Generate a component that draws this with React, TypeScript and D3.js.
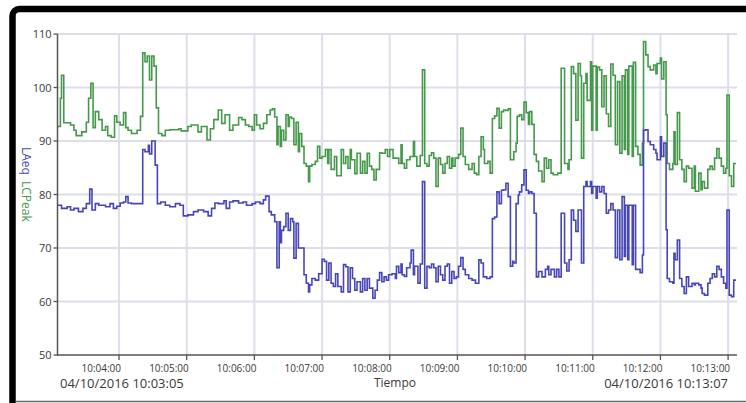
import React from "react";
import * as d3 from "d3";

// recording window
const startTime = new Date(2016, 9, 4, 10, 3, 5);
const endTime = new Date(2016, 9, 4, 10, 13, 7);

// LCPeak (green): step start in seconds from start, value in dB
const lcpeakSec = [
  0, 3, 4, 6, 12, 15, 17, 22, 26, 28, 30, 32, 34, 37, 40, 43, 45, 48, 51, 53, 56, 59, 61, 63, 66, 71, 74, 76, 78, 80,
  82, 84, 86, 88, 90, 93, 96, 100, 108, 110, 116, 119, 125, 128, 133, 136, 139, 143, 146, 149,
  153, 156, 161, 164, 167, 170, 173, 175, 177, 180, 183, 186, 189, 191, 193, 195, 196, 198, 199, 201, 203, 205, 206,
  208, 210, 212, 214, 215, 217, 219, 221, 223, 224, 226, 229, 231, 233, 235, 238, 240, 241, 243, 246, 248, 252, 254,
  256, 258, 260, 261, 264, 266, 269, 271, 273, 275, 277, 279, 281, 283, 286, 288, 291, 293, 295, 298,
  300, 303, 305, 306, 308, 310, 313, 316, 317, 319, 322, 324, 326, 328, 330, 332, 334, 336, 338, 340, 342, 344, 346,
  348, 350, 351, 353, 356, 358, 360, 362, 365, 368, 370, 372, 374, 376, 378, 379, 382, 384, 386, 388, 390, 392, 394,
  396, 398, 400, 402, 405, 407, 408, 410, 412, 414, 416, 418, 419, 421, 423, 425, 427, 430, 432, 434, 436, 438, 440,
  444, 447,
  450, 453, 454, 456, 458, 460, 462, 464, 465, 467, 469, 470, 473, 474, 475, 478, 479, 481, 483, 485, 487, 489, 491,
  493, 495, 497, 499, 501, 503, 504, 506, 507, 510, 511, 513, 515, 517, 519, 520, 522, 524, 526, 529, 531, 532, 535,
  536, 538, 540, 541, 543, 546, 547, 548, 550, 552, 554, 556, 558, 560, 563, 565, 566, 569, 571, 572, 574, 577, 579,
  581, 583, 585, 587, 589, 591, 593, 594, 596, 598, 600,
];
const lcpeakVal = [
  92.7, 98, 102.3, 93.4, 93, 92, 91, 91.7, 93.5, 98, 100.8, 92.5, 95.5, 94, 92, 92.7, 91, 90.7, 94.7, 93.5, 93, 95.3,
  92.5, 92, 91.4, 92, 94.6, 106.5, 104.8, 105.9, 101.4, 105.9, 104, 96.2, 91.4, 91, 92, 92.1, 92.3, 91.9, 92.7, 93,
  91.7, 92.7, 90.2, 92.3, 94, 95.8, 93.3, 94.9,
  92, 93, 94.4, 94, 93, 92.7, 92, 94.9, 93, 92.3, 93.3, 94.9, 95.8, 96, 94.5, 89.3, 92.7, 89, 92, 90.2, 94.9, 92.7,
  94.5, 94.2, 89.3, 93.5, 88, 91.4, 89, 85.8, 85.3, 82.4, 85.3, 85.6, 86.2, 89, 86.8, 87.1, 88.4, 85.8, 88.4, 84.7,
  87.1, 83.5, 88.4, 85.8, 87.1, 84.9, 88.4, 86.5, 83.9, 87.7, 84, 86.2, 84, 87.7, 85.3, 84.7, 82.7, 84.7, 87.8, 87.7,
  88.4, 87.1, 88.4, 86.8,
  86.8, 85.8, 89.3, 85.8, 84.9, 86.5, 87.1, 89.9, 87.1, 85.3, 87.3, 103.3, 85.8, 85.3, 87.3, 87.8, 86.8, 81.5, 86.8,
  85.6, 84, 85.8, 87.1, 84.9, 86.8, 85.3, 86.8, 87.5, 92.4, 87.1, 85.6, 84.7, 85.8, 84, 83.7, 87.1, 90.8, 88.4, 85.8,
  86.2, 84, 94.2, 94.7, 96.1, 92.4, 95.5, 95.8, 95.7, 96, 86.5, 88, 89.6, 94.6, 94.9, 94, 97.3, 95.3, 93.1, 95.5, 93.1,
  87.5, 86.2, 84.4, 82.4, 86.8, 84.9, 86.5, 84, 83.7, 84, 103.6,
  85.8, 84.7, 86.5, 103.9, 102.6, 93.9, 104.5, 102.2, 86.8, 100.8, 102.6, 97.6, 104.8, 92, 104, 92, 103.8, 103.3,
  96.4, 102.2, 95.1, 92.7, 104.4, 102.3, 89.3, 101.1, 87.7, 102.2, 88.4, 103.3, 87.5, 104, 87.1, 104.7, 89, 87.5,
  85.5, 89.6, 108.6, 106.1, 103.9, 103.3, 104.2, 102.6, 104.5, 105.5, 101.6, 104.8, 94.9, 85.8, 84.7, 85.8, 91.7,
  85.6, 95.3, 86.5, 84.7, 82.4, 85.3, 84.9, 81.2, 85.3, 80.6, 84, 80.9, 82.4, 81.2, 84.7, 85.3, 84.7, 86.8, 88.6,
  86.8, 85.3, 84, 84.9, 98.6, 83.5, 81.5, 85.8,
];

// LAeq (blue)
const laeqSec = [
  0, 4, 9, 12, 15, 19, 23, 26, 29, 31, 34, 37, 43, 47, 50, 53, 56, 59, 61, 63, 66, 76, 78, 81, 82, 84, 87, 89, 92, 96,
  100, 105, 109, 112, 116, 121, 125, 130, 134, 137, 140, 143, 148, 150,
  153, 156, 161, 165, 168, 173, 176, 180, 183, 185, 188, 190, 193, 195, 197, 198, 199, 201, 203, 205, 207, 209, 210,
  212, 214, 219, 221, 223, 224, 226, 229, 232, 235, 237, 239, 241, 243, 245, 247, 249, 252, 254, 256, 258, 260, 262,
  264, 266, 269, 271, 273, 275, 277, 280, 282, 284, 286, 288, 290, 292, 294, 297,
  300, 301, 303, 305, 306, 308, 310, 313, 314, 316, 317, 320, 322, 324, 326, 328, 330, 332, 334, 336, 338, 340, 342,
  344, 346, 348, 350, 352, 354, 356, 358, 360, 362, 365, 368, 371, 374, 376, 378, 381, 384, 386, 388, 390, 392, 394,
  396, 398, 400, 402, 404, 405, 407, 409, 410, 412, 414, 416, 418, 419, 421, 423, 425, 427, 430, 433, 435, 436, 438,
  441, 443, 445, 447,
  450, 452, 454, 456, 458, 460, 462, 465, 467, 469, 470, 473, 474, 475, 478, 479, 481, 483, 485, 487, 489, 491, 493,
  495, 497, 499, 501, 503, 504, 506, 507, 510, 511, 513, 517, 519, 520, 522, 524, 526, 529, 531, 532, 535, 536, 538,
  540, 541, 543, 546, 547, 548, 550, 552, 554, 556, 558, 560, 563, 565, 566, 569, 571, 572, 574, 577, 579, 581, 583,
  585, 587, 589, 591, 593, 594, 596, 598, 600,
];
const laeqVal = [
  78, 77.4, 77.7, 77.1, 77.4, 76.8, 77.4, 78.3, 81, 77.1, 78.3, 78, 77.7, 78.3, 77.4, 77.8, 78.4, 78.6, 79.6, 78.4,
  78.3, 88.4, 88, 89.2, 87.6, 90, 85.5, 78.3, 78.6, 78, 77.7, 78.3, 78, 76, 76.2, 76.8, 77.1, 76.8, 76, 77.4, 78.4,
  78.3, 78.8, 77.4,
  78.6, 78.8, 78.4, 78.6, 78, 78.3, 78.6, 78.3, 79, 79.7, 76.8, 76.2, 74.9, 66.3, 74.9, 71, 73.3, 74, 76.5, 73.3, 75.5,
  74.9, 68.1, 74.6, 70, 65, 63.4, 61.8, 63.1, 64.3, 64, 65.2, 67.9, 67.5, 64, 67.2, 63.4, 62.8, 65.2, 62.8, 61.8, 66.9,
  66.5, 61.8, 66.3, 64.3, 62.1, 63.7, 61.8, 64.3, 62.1, 64.3, 62.5, 60.6, 62.1, 64, 65.4, 63.7, 64.6, 64, 65, 65.2,
  64.3, 66.6, 65.4, 67, 65, 64.7, 66.3, 67.2, 69.6, 65, 66.6, 63.4, 67, 82.4, 62.5, 66.6, 66.3, 67, 66.3, 63.7, 66.6,
  65, 64, 66.6, 67, 63.4, 65.6, 64.3, 64.6, 66.6, 68.2, 66, 65, 64.3, 64, 63.4, 67.8, 67.2, 64.6, 64.3, 64.6, 75.5,
  75.8, 80.5, 78.3, 80.8, 80.9, 82.1, 79.6, 66.6, 67.5, 67.2, 78.3, 79.9, 80.5, 81.8, 84.6, 80.8, 80.2, 80.5, 80.2,
  76.5, 64.6, 65.6, 64.6, 66, 66.6, 65, 66, 64.6, 66, 64.6, 76.5,
  67.2, 65.7, 67.8, 77.1, 75.2, 73.1, 77.1, 67.2, 81.5, 82.4, 81.5, 82.4, 80.2, 81.5, 79.3, 81.5, 80.5, 81.5, 80.2,
  76.5, 77.1, 78.3, 77.1, 68.2, 77.1, 67.8, 79.6, 68.4, 78, 67.8, 78, 66.9, 78, 66, 65.4, 68.7, 92, 92.1, 89.9, 89.3,
  88.4, 87.7, 86.5, 90.8, 87.1, 89.6, 73.4, 64.3, 63.7, 63.4, 69, 67.8, 71.5, 64.3, 62.8, 61.5, 64.6, 62.8, 63.4, 63.1,
  63.4, 63.1, 62.5, 61.5, 61.2, 63.4, 64.3, 65.2, 64.6, 66.6, 66, 64.6, 63.4, 62.5, 77.1, 61.2, 60.9, 64,
];

const yTicks = [50, 60, 70, 80, 90, 100, 110];

const GREEN = "#45994a";
const BLUE = "#4646ba";
const GRID = "#dedeeb";
const FONT = "'Open Sans', 'Noto Sans', sans-serif";

function toPoints(secs: number[], vals: number[]): [Date, number][] {
  const pts: [Date, number][] = secs.map((s, i) => [new Date(+startTime + s * 1000), vals[i]]);
  pts.push([endTime, vals[vals.length - 1]]);
  return pts;
}

export default function App() {
  const x = d3.scaleTime().domain([startTime, endTime]).range([57, 736]);
  const y = d3.scaleLinear().domain([50, 110]).range([355, 34]);
  const x0 = 57.5;
  const x1 = 737;

  const line = d3
    .line<[Date, number]>()
    .x((d) => x(d[0]))
    .y((d) => y(d[1]))
    .curve(d3.curveStepAfter);

  const minutes = x.ticks(d3.timeMinute.every(1)!);
  const fmt = d3.timeFormat("%H:%M:%S");
  const dateFmt = d3.timeFormat("%d/%m/%Y %H:%M:%S");

  return (
    <svg width={746} height={403} style={{ position: "absolute", left: 0, top: 0, background: "#fff" }} fontFamily={FONT}>
      {/* frame */}
      <rect x={12.5} y={9} width={900} height={600} rx={7} fill="none" stroke="#000" strokeWidth={6.5} />
      <line x1={16} x2={746} y1={401.5} y2={401.5} stroke="#6b6b6b" strokeWidth={1.5} />

      {/* grid */}
      {yTicks.slice(1).map((t) => (
        <line key={"h" + t} x1={x0} x2={x1} y1={y(t)} y2={y(t)} stroke={GRID} strokeWidth={2} />
      ))}
      {minutes.map((m) => (
        <line key={"v" + +m} x1={x(m)} x2={x(m)} y1={y(110)} y2={y(50)} stroke={GRID} strokeWidth={2} />
      ))}

      {/* series */}
      <path d={line(toPoints(lcpeakSec, lcpeakVal)) || ""} fill="none" stroke={GREEN} strokeWidth={1.6} />
      <path d={line(toPoints(laeqSec, laeqVal)) || ""} fill="none" stroke={BLUE} strokeWidth={1.6} />

      {/* y axis */}
      <line x1={x0} x2={x0} y1={y(110)} y2={y(50) + 1} stroke="#555" strokeWidth={1.5} />
      {yTicks.map((t) => (
        <g key={"yt" + t}>
          <line x1={x0 - 4} x2={x0} y1={y(t)} y2={y(t)} stroke="#555" strokeWidth={1.3} />
          <text x={x0 - 6} y={y(t) + 4} textAnchor="end" fontSize={11} fill="#3a3a3a">
            {t}
          </text>
        </g>
      ))}

      {/* x axis: labels sit to the left of their tick */}
      <line x1={x0} x2={x1} y1={y(50)} y2={y(50)} stroke="#555" strokeWidth={1.5} />
      {minutes.map((m) => (
        <g key={"xt" + +m}>
          <line x1={x(m)} x2={x(m)} y1={y(50)} y2={y(50) + 5} stroke="#555" strokeWidth={1.3} />
          <text x={x(m) + 2} y={372} textAnchor="end" fontSize={10} fill="#3a3a3a">
            {fmt(m)}
          </text>
        </g>
      ))}
      <text x={60} y={388} fontSize={13} fill="#3a3a3a">
        {dateFmt(startTime)}
      </text>
      <text x={728} y={388} fontSize={13} textAnchor="end" fill="#3a3a3a">
        {dateFmt(endTime)}
      </text>
      <text x={395} y={387} fontSize={12} textAnchor="middle" fill="#3a3a3a">
        Tiempo
      </text>

      {/* y titles */}
      <text transform="translate(22,147) rotate(90)" fontSize={12}>
        <tspan fill={BLUE}>LAeq</tspan>
        <tspan fill={GREEN} dx={6}>
          LCPeak
        </tspan>
      </text>
    </svg>
  );
}
